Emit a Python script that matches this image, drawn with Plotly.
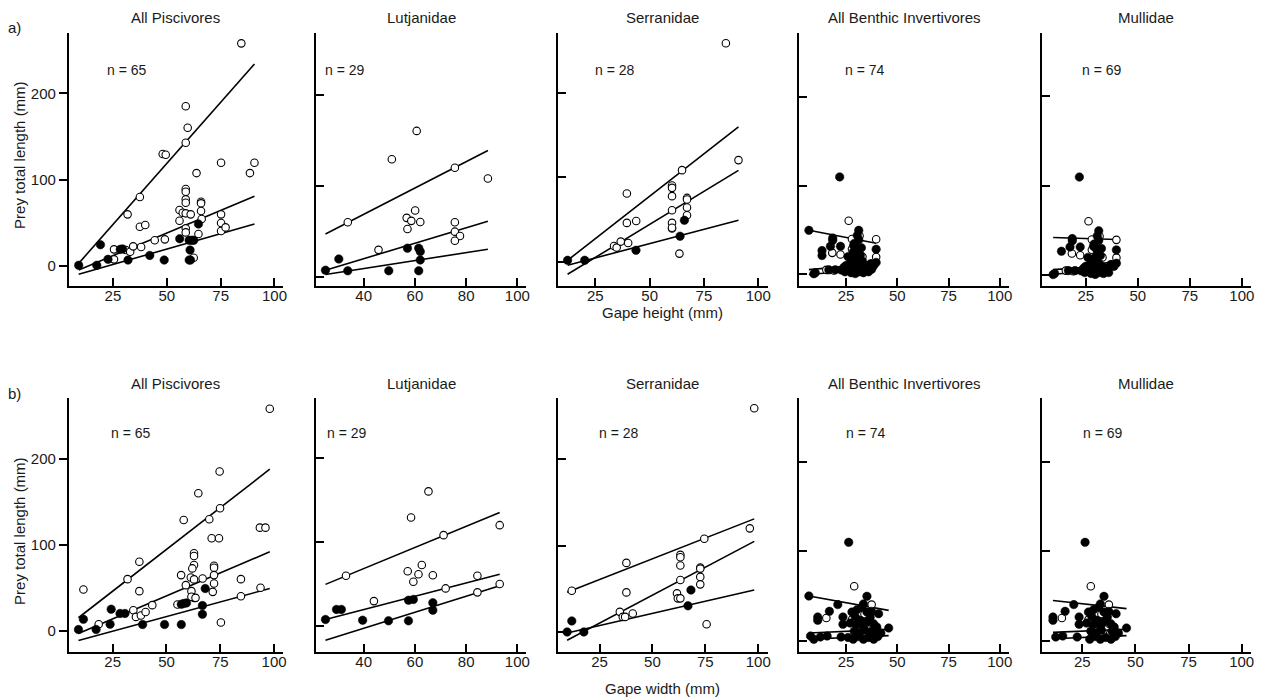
import plotly.graph_objects as go

# ---------------- DATA ----------------
titles = ["All Piscivores", "Lutjanidae", "Serranidae", "All Benthic Invertivores", "Mullidae"]
n_labels = ["n = 65", "n = 29", "n = 28", "n = 74", "n = 69"]
row_tags = ["a)", "b)"]
x_titles = ["Gape height (mm)", "Gape width (mm)"]
y_title = "Prey total length (mm)"
y_ticks = [0, 100, 200]
x_ticks_main = [25, 50, 75, 100]
x_ticks_lut = [40, 60, 80, 100]

# Row a: gape height
a_pisc_open = [(25.5, 19), (25.5, 7.4), (31, 18.2), (33, 16.2), (34.4, 22.5), (38.1, 21.7), (44.4, 29.5),
               (49.1, 30.6), (37.5, 45.2), (40, 47.2), (31.8, 59.6), (37.5, 79.7), (48.1, 129.6), (49.5, 128.8),
               (63.8, 107.5), (75.2, 119.5), (88.6, 107.5), (90.7, 119.5), (58.8, 89), (58.8, 85.8), (58.8, 77),
               (58.8, 73), (65.9, 74.2), (65.9, 72.4), (65.9, 63.5), (55.9, 64.6), (57.4, 61.5), (58.8, 60.8),
               (61.1, 59.6), (55.9, 52.2), (58.8, 43.4), (58.8, 38.7), (64.7, 36.8), (66.2, 54.2), (75.2, 59.6),
               (75.2, 49.5), (75.2, 40.3), (77.3, 44.5), (62.5, 9.3), (84.6, 258), (58.8, 185), (59.7, 160),
               (58.8, 142.7)]
a_pisc_filled = [(9.1, 0.5), (19.2, 24.4), (17.5, 0.5), (22.7, 7.4), (28.4, 19), (29.5, 19.5), (32, 6.6),
                 (42.1, 12), (48.8, 6.6), (56, 31.3), (60.4, 29.5), (61.6, 29.5), (62.5, 29.5), (60.8, 18.2),
                 (60.4, 6.6), (61, 6.6), (64.7, 48.4)]
a_lut_open = [(60.7, 160.4), (51, 129.3), (75.6, 120), (88.5, 108.2), (33.8, 60), (60.1, 73), (56.8, 64.9),
              (58.6, 61.6), (62.1, 60.4), (57.1, 52.7), (75.6, 60), (75.6, 49.7), (77.6, 44.9), (75.6, 39.7),
              (45.8, 29.7)]
a_lut_filled = [(25.1, 7.4), (30.3, 19.7), (33.8, 6.7), (49.8, 6.7), (57.1, 31.6), (61.5, 31.6), (62.1, 27.8),
                (62.1, 18.6), (61.5, 6.7)]
a_ser_open = [(85.1, 258.5), (90.9, 120.4), (64.9, 108.5), (39.5, 80.9), (60.3, 90.4), (60.3, 87.6),
              (60.3, 77.8), (60.3, 61.2), (67.2, 75.7), (67.2, 73.8), (67.2, 64.4), (67.2, 55.3), (60.3, 46.2),
              (60.3, 39.5), (39.5, 46.2), (43.8, 48.5), (33.6, 18.9), (34.8, 17), (36.7, 24.1), (40.1, 22.5),
              (63.7, 9.9), (60.3, 40.5)]
a_ser_filled = [(12.2, 2), (20.1, 2), (43.7, 13.8), (64, 30.4), (66, 49.3)]
a_mull_filled = [(21.9, 109.9), (31.2, 49.7), (31.2, 39), (18.5, 41), (18.5, 38.5), (17.4, 31.7), (22.3, 31.7),
                 (13.3, 26.9), (28.7, 32.5), (29.5, 20), (30.5, 27), (32, 22), (39.7, 28.4), (39.7, 13.5),
                 (9.3, 0.8), (10, 2), (16.6, 5.2), (19.8, 5.2), (22.7, 5), (24.5, 3), (26, 6), (27.5, 2), (28.5, 5),
                 (29.5, 1), (30.5, 8), (31.5, 3), (32.5, 6), (33.5, 2), (34.5, 5), (36, 3), (25, 10), (27, 12),
                 (29, 11), (31, 14), (33, 10), (35, 8), (37, 12), (30, 17), (28, 18), (32.5, 30), (29, 35),
                 (30.5, 44), (26, 20), (24, 8), (38.5, 10)]
a_mull_open = [(26.3, 60.5), (39.7, 39.6), (18.3, 24.3), (22.3, 22.4), (39.7, 19.7), (27.9, 40), (31.6, 43.7),
               (27.9, 28.6), (15.4, 5.2), (19, 4.5), (37.5, 12), (30, 30), (33, 20), (35, 10)]
a_othbenth_filled = [(6.9, 49.7), (28.5, 25), (33, 15), (37.5, 6), (13.3, 21.3)]

# Row b: gape width
b_pisc_open = [(98, 258.5), (74.7, 185.3), (64.8, 160), (58, 128.9), (69.9, 129.7), (74.9, 142.5), (71, 107.5),
               (74.4, 107.5), (93.4, 119.9), (96, 119.9), (11.4, 47.9), (37.4, 80.1), (31.9, 59.9), (37.4, 45.9),
               (43.4, 29.6), (18.5, 7.4), (75.3, 9.3), (84.6, 59.9), (84.6, 40), (93.7, 49.8), (56.8, 64.6),
               (62.8, 90), (62.8, 86.8), (62.8, 76.3), (62, 72.4), (72.1, 75.5), (72.1, 73.1), (72.1, 64.6),
               (72.1, 54.9), (61.3, 61.9), (62.8, 59.6), (59, 52.9), (61.6, 45.9), (62.8, 38.1), (61.6, 39.3),
               (66.8, 60.7), (55.1, 30.4), (34.6, 23.7), (35.8, 15.9), (38.1, 17.5), (40.3, 21.7), (71.5, 45.1),
               (63.5, 38.1)]
b_pisc_filled = [(9.1, 1.2), (11.4, 13.2), (17.3, 1.2), (24.3, 24.9), (23.8, 7.4), (28.4, 19.9), (30.7, 19.9),
                 (38.9, 7), (49.1, 7), (56.9, 7), (56.9, 30.7), (58, 31.5), (59.3, 32.2), (68, 49), (66.7, 29.2),
                 (66.7, 19)]
b_lut_open = [(65.3, 160.5), (58.5, 129.4), (93.1, 120.3), (71.2, 108.4), (33.1, 60.1), (57.2, 65.4),
              (62.7, 72.9), (61.4, 61.8), (59.4, 52.9), (67, 60.6), (84.4, 60.1), (44, 29.9), (72, 45),
              (84.4, 40.3), (93.1, 50.2)]
b_lut_filled = [(25.1, 8), (29.4, 20), (31.3, 20), (39.6, 7.2), (49.7, 6.4), (57.5, 6.4), (57.5, 31),
                (59.4, 31.9), (67, 27.9), (67, 19.1)]
b_ser_open = [(98.1, 259), (96, 120.1), (74.5, 108.1), (11.9, 48), (37.7, 80.2), (37.7, 46.1), (63.2, 89.5),
              (63.2, 86.8), (63.2, 77.1), (72.6, 74.8), (72.6, 73.6), (72.6, 64), (72.6, 55.4), (63.2, 60.5),
              (61.6, 45), (62, 39.2), (63.2, 39.2), (34.6, 23.6), (36, 17.8), (37.1, 17.8), (40.7, 21.7),
              (75.6, 9.3)]
b_ser_filled = [(9.7, 0.4), (11.9, 13.1), (17.6, 0.4), (66.8, 30.6), (68.2, 48.8)]
b_mull_filled = [(26.3, 110), (35.2, 49.8), (21, 40.6), (16.9, 33.1), (11.2, 26.8), (11.2, 23.1), (23.5, 26.8),
                 (23.5, 18.6), (40.9, 30.5), (45.8, 14.5), (12.5, 4.5), (15.8, 5.6), (22.6, 4.5), (27.9, 32.3),
                 (30.3, 34.8), (32.7, 37.7), (33.5, 41.4), (35.2, 32.3), (36.8, 26.8), (32, 23.1), (35.2, 21.2),
                 (38.4, 19.4), (33.5, 15.7), (40, 15.7), (29, 11), (31.5, 9), (34, 12), (39, 11), (42, 9),
                 (28.5, 2), (31, 5), (33.5, 2), (36, 4), (38.5, 2), (40.5, 5), (30, 18), (27, 20), (29.5, 27),
                 (37.5, 33)]
b_mull_open = [(29, 61), (37.5, 40.6), (15.4, 25.6), (27.9, 23.9), (35.2, 24.5), (37.5, 19.4), (34, 30),
               (31, 14), (38, 8)]
b_othbenth_filled = [(6.9, 50.2), (7.7, 5.6), (9.3, 1.9), (36.5, 10), (26, 4)]

# Fitted lines (intercept, slope), upper / middle / lower
a_pisc_fit = [(-23.0, 2.833), (-14.5, 1.048), (-16.5, 0.717)]
a_lut_fit = [(10.8, 1.448), (-13.9, 0.847), (-8.4, 0.4385)]
a_ser_fit = [(-22.5, 2.005), (-33.6, 1.560), (-12.1, 0.676)]
a_benth_fit = [(52.8, -0.445), (4.1, 0.198), (-1.4, 0.198)]
a_mull_fit = [(42.9, -0.072), (4.9, 0.158), (-0.6, 0.184)]
b_pisc_fit = [(-2.8, 1.947), (-13.1, 1.070), (-17.8, 0.682)]
b_lut_fit = [(18.2, 1.259), (-11.9, 0.791), (-40.6, 0.954)]
b_ser_fit = [(36.9, 0.960), (-21.8, 1.293), (-6.2, 0.561)]
b_benth_fit = [(53.0, -0.411), (8.3, 0.103), (1.3, 0.103)]
b_mull_fit = [(48.2, -0.264), (8.5, 0.10), (1.5, 0.10)]

# ---------------- LAYOUT GEOMETRY ----------------
W, H = 1270, 700
col_px = [(69, 284), (317, 528), (560, 770), (802, 1012), (1045, 1255)]
row_px = [(33, 286), (398, 652)]
x_ranges = [[4.5, 104], [21.4, 103.5], [7.9, 104.3], [2.3, 104.4], [3.8, 104.4],
            [4.6, 104.2], [21.4, 103.5], [5.5, 104.4], [2.3, 104.4], [5.9, 104.4]]
y_ranges = [[-23.5, 270], [-10, 268], [-28.4, 270.6], [-13, 272], [-12, 271],
            [-25, 271], [-30.7, 271.7], [-22.8, 270.8], [-12.2, 270.8], [-12.2, 270.8]]

panels = [
    (a_pisc_open, a_pisc_filled, a_pisc_fit),
    (a_lut_open, a_lut_filled, a_lut_fit),
    (a_ser_open, a_ser_filled, a_ser_fit),
    (a_mull_open, a_mull_filled + a_othbenth_filled, a_benth_fit),
    (a_mull_open, a_mull_filled, a_mull_fit),
    (b_pisc_open, b_pisc_filled, b_pisc_fit),
    (b_lut_open, b_lut_filled, b_lut_fit),
    (b_ser_open, b_ser_filled, b_ser_fit),
    (b_mull_open, b_mull_filled + b_othbenth_filled, b_benth_fit),
    (b_mull_open, b_mull_filled, b_mull_fit),
]

FONT = "Liberation Sans, Arial, sans-serif"
TXT = "#1a1a1a"


def px(x):
    return x / W


def py(y):
    return 1 - y / H


fig = go.Figure()
layout = {}
annotations = []

for i, (opn, fil, fit) in enumerate(panels):
    r, c = divmod(i, 5)
    k = i + 1
    xa = "x" if k == 1 else f"x{k}"
    ya = "y" if k == 1 else f"y{k}"
    xs = [p[0] for p in opn + fil]
    xmin, xmax = min(xs), max(xs)
    for (b0, b1) in fit:
        fig.add_trace(go.Scatter(x=[xmin, xmax], y=[b0 + b1 * xmin, b0 + b1 * xmax], mode="lines",
                                 line=dict(color="black", width=1.6), xaxis=xa, yaxis=ya,
                                 showlegend=False, hoverinfo="skip"))
    fig.add_trace(go.Scatter(x=[p[0] for p in opn], y=[p[1] for p in opn], mode="markers",
                             marker=dict(symbol="circle", size=7.5, color="white",
                                         line=dict(color="black", width=1.1)),
                             xaxis=xa, yaxis=ya, showlegend=False))
    fig.add_trace(go.Scatter(x=[p[0] for p in fil], y=[p[1] for p in fil], mode="markers",
                             marker=dict(symbol="circle", size=8.5, color="black",
                                         line=dict(color="black", width=0.5)),
                             xaxis=xa, yaxis=ya, showlegend=False))

    x0, x1 = col_px[c]
    y0, y1 = row_px[r]
    axkey = "xaxis" if k == 1 else f"xaxis{k}"
    aykey = "yaxis" if k == 1 else f"yaxis{k}"
    xt = x_ticks_lut if c == 1 else x_ticks_main
    layout[axkey] = dict(domain=[px(x0), px(x1)], range=x_ranges[i], anchor=ya,
                         showline=True, linecolor="black", linewidth=1.8,
                         ticks="inside", ticklen=8, tickwidth=1.8, tickcolor="black",
                         tickvals=xt, ticktext=[str(v) for v in xt], ticklabelstandoff=-5,
                         tickfont=dict(family=FONT, size=15, color=TXT),
                         showgrid=False, zeroline=False, fixedrange=True)
    layout[aykey] = dict(domain=[py(y1), py(y0)], range=y_ranges[i], anchor=xa,
                         showline=True, linecolor="black", linewidth=1.8,
                         ticks="outside" if c == 0 else "inside", ticklen=8, tickwidth=1.8,
                         tickcolor="black", tickvals=y_ticks,
                         ticktext=[str(v) for v in y_ticks] if c == 0 else ["", "", ""],
                         showticklabels=(c == 0),
                         tickfont=dict(family=FONT, size=15, color=TXT),
                         showgrid=False, zeroline=False, fixedrange=True)

    # panel title
    title_y = [18, 383][r]
    annotations.append(dict(text=titles[c], x=px((x0 + x1) / 2), y=py(title_y), xref="paper", yref="paper",
                            showarrow=False, xanchor="center", yanchor="middle",
                            font=dict(family=FONT, size=15, color=TXT)))

# n labels
n_pos = [[127.5, 345.8, 617, 867.5, 1105], [131.7, 347.8, 620.8, 868.5, 1106.3]]
for r in range(2):
    for c in range(5):
        annotations.append(dict(text=n_labels[c], x=px(n_pos[r][c]), y=py([70, 433][r]), xref="paper",
                                yref="paper", showarrow=False, xanchor="center", yanchor="middle",
                                font=dict(family=FONT, size=14, color=TXT)))

# row tags
for r, (tx, ty) in enumerate([(15, 27), (15, 393)]):
    annotations.append(dict(text=row_tags[r], x=px(tx), y=py(ty), xref="paper", yref="paper", showarrow=False,
                            xanchor="center", yanchor="middle", font=dict(family=FONT, size=15, color=TXT)))

# y titles
for ty in [155, 531]:
    annotations.append(dict(text=y_title, x=px(19), y=py(ty), xref="paper", yref="paper", showarrow=False,
                            textangle=-90, xanchor="center", yanchor="middle",
                            font=dict(family=FONT, size=15, color=TXT)))
# x titles
for r, ty in enumerate([313, 688]):
    annotations.append(dict(text=x_titles[r], x=px(665), y=py(ty), xref="paper", yref="paper", showarrow=False,
                            xanchor="center", yanchor="middle", font=dict(family=FONT, size=15, color=TXT)))

fig.update_layout(width=W, height=H, margin=dict(l=0, r=0, t=0, b=0), plot_bgcolor="white",
                  paper_bgcolor="white", showlegend=False, annotations=annotations, **layout)

fig.write_html("out.html")
